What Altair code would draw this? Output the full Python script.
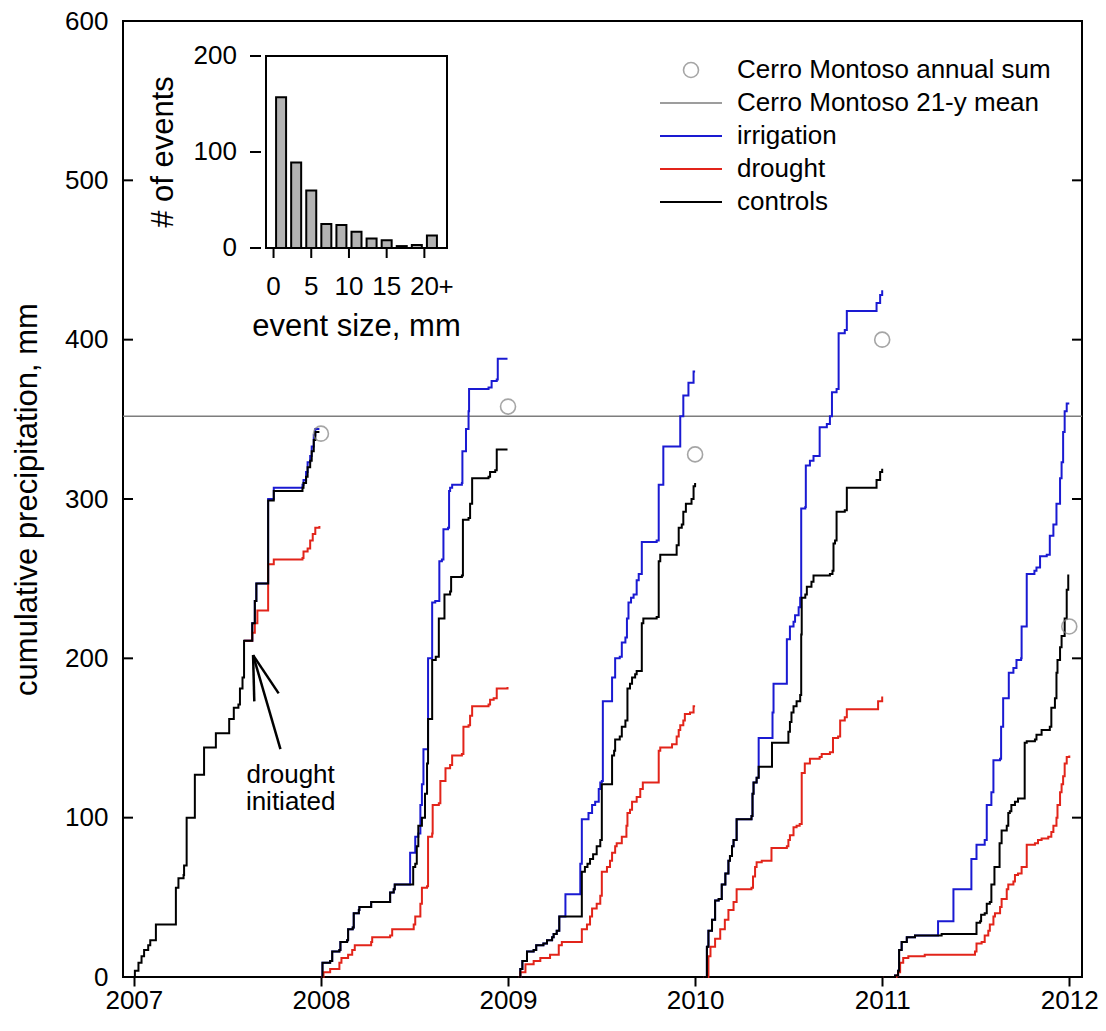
import altair as alt
import pandas as pd

FONT = "Liberation Sans"

# Cumulative precipitation steps as (day of year, mm), per treatment and year
controls_2007 = [(0, 0), (2, 4), (9, 9), (15, 13), (20, 17), (28, 20), (32, 23), (43, 33), (82, 56), (87, 62),
                 (97, 64), (98, 70), (103, 100), (119, 127), (137, 144), (160, 153), (186, 162), (195, 169),
                 (204, 171), (207, 181), (212, 188), (215, 211), (231, 222), (236, 236), (239, 247), (262, 299),
                 (273, 305), (329, 307), (331, 310), (336, 314), (339, 320), (344, 324), (347, 330), (351, 337),
                 (354, 342), (362, 342)]
irrigation_2007 = [(215, 211), (231, 222), (236, 236), (239, 247), (262, 300), (273, 307), (329, 309), (331, 312),
                   (336, 317), (339, 323), (344, 327), (347, 333), (351, 340), (354, 344), (362, 344)]
drought_2007 = [(215, 211), (231, 216), (236, 222), (241, 230), (262, 259), (273, 262), (329, 263), (331, 267),
                (339, 269), (344, 274), (349, 278), (354, 282), (362, 283)]

controls_2008 = [(1, 0), (3, 9), (18, 10), (22, 16), (36, 17), (38, 22), (51, 23), (53, 30), (62, 31), (64, 40),
                 (74, 42), (75, 44), (98, 47), (135, 53), (142, 55), (144, 58), (180, 69), (184, 71), (187, 82),
                 (190, 95), (197, 100), (203, 115), (207, 134), (209, 162), (217, 199), (224, 201), (230, 225),
                 (241, 240), (252, 242), (254, 251), (275, 252), (277, 287), (288, 288), (291, 297), (295, 313),
                 (327, 314), (330, 317), (340, 318), (343, 331), (364, 331)]
irrigation_2008 = [(1, 0), (3, 9), (18, 10), (22, 16), (36, 17), (38, 22), (51, 23), (53, 30), (62, 31), (64, 40),
                   (74, 42), (75, 44), (98, 47), (135, 53), (142, 55), (144, 58), (174, 78), (184, 88), (190, 90),
                   (194, 108), (197, 121), (200, 143), (209, 200), (217, 235), (223, 236), (231, 261), (236, 262),
                   (239, 281), (248, 282), (250, 305), (252, 307), (256, 309), (275, 310), (276, 330), (283, 344),
                   (288, 355), (289, 369), (327, 370), (333, 374), (343, 375), (345, 388), (364, 388)]
drought_2008 = [(1, 0), (5, 3), (18, 5), (36, 9), (40, 12), (53, 14), (61, 17), (66, 20), (98, 22), (100, 25),
                (135, 26), (139, 30), (181, 33), (184, 38), (194, 46), (197, 56), (207, 57), (209, 88), (217, 90),
                (218, 108), (230, 109), (233, 123), (243, 131), (252, 133), (256, 139), (275, 140), (278, 157),
                (288, 158), (291, 164), (295, 170), (327, 171), (330, 174), (337, 175), (343, 181), (364, 182)]

controls_2009 = [(20, 0), (24, 5), (28, 10), (37, 16), (50, 17), (55, 20), (69, 21), (76, 23), (86, 25), (89, 27),
                 (95, 29), (100, 38), (144, 66), (150, 69), (155, 71), (160, 74), (166, 77), (173, 82), (180, 86),
                 (183, 121), (203, 139), (207, 142), (209, 149), (218, 151), (222, 157), (229, 161), (233, 181),
                 (238, 184), (242, 188), (248, 190), (251, 192), (261, 222), (264, 225), (290, 226), (294, 261),
                 (297, 265), (326, 265), (329, 271), (333, 282), (339, 284), (342, 292), (347, 297), (358, 300),
                 (362, 308), (365, 310)]
irrigation_2009 = [(20, 0), (24, 5), (28, 10), (37, 16), (50, 17), (55, 20), (69, 21), (76, 23), (86, 25), (89, 27),
                   (95, 29), (100, 38), (112, 52), (141, 71), (144, 99), (157, 103), (164, 108), (170, 110),
                   (177, 118), (180, 122), (183, 123), (185, 173), (203, 188), (209, 200), (218, 201), (222, 210),
                   (229, 213), (232, 225), (235, 235), (240, 238), (245, 240), (251, 249), (255, 253), (261, 273),
                   (290, 274), (294, 309), (303, 333), (336, 352), (342, 365), (352, 373), (362, 380), (365, 380)]
drought_2009 = [(20, 0), (24, 3), (34, 8), (50, 10), (63, 12), (82, 14), (99, 20), (105, 22), (144, 30), (154, 33),
                (160, 38), (164, 43), (173, 46), (180, 51), (183, 66), (193, 69), (199, 73), (203, 78), (209, 82),
                (212, 84), (222, 88), (231, 95), (233, 103), (238, 105), (242, 110), (251, 113), (258, 118),
                (263, 122), (294, 142), (297, 144), (320, 146), (329, 151), (333, 155), (336, 158), (342, 161),
                (345, 165), (355, 166), (362, 170), (365, 170)]

controls_2010 = [(16, 0), (23, 19), (26, 29), (33, 36), (39, 48), (46, 49), (52, 58), (59, 65), (65, 73), (68, 76),
                 (72, 82), (75, 86), (81, 99), (110, 101), (112, 115), (114, 122), (120, 125), (124, 132),
                 (150, 147), (179, 147), (182, 154), (185, 160), (188, 166), (192, 170), (198, 173), (205, 177),
                 (207, 215), (208, 238), (215, 240), (218, 245), (227, 248), (231, 252), (263, 253), (268, 255),
                 (270, 272), (273, 274), (276, 292), (292, 293), (296, 307), (351, 307), (354, 312), (361, 317),
                 (365, 319)]
irrigation_2010 = [(16, 0), (23, 19), (26, 29), (33, 36), (39, 48), (46, 49), (52, 58), (59, 65), (65, 73), (68, 76),
                   (72, 82), (75, 86), (81, 99), (110, 101), (112, 115), (114, 122), (120, 125), (124, 150),
                   (151, 166), (153, 184), (179, 212), (185, 220), (192, 223), (195, 227), (202, 232), (205, 238),
                   (207, 294), (215, 295), (216, 321), (224, 324), (231, 327), (243, 345), (257, 347), (263, 352),
                   (267, 367), (276, 369), (280, 404), (292, 406), (296, 418), (354, 423), (361, 428), (365, 431)]
drought_2010 = [(16, 0), (26, 13), (30, 19), (39, 24), (49, 30), (58, 36), (65, 42), (75, 47), (81, 55), (110, 56),
                (113, 63), (117, 69), (120, 72), (130, 73), (149, 81), (179, 82), (182, 86), (185, 89), (192, 94),
                (198, 95), (204, 96), (208, 128), (214, 134), (224, 137), (243, 138), (247, 140), (263, 141),
                (269, 150), (279, 151), (283, 161), (292, 163), (296, 168), (357, 173), (365, 176)]

controls_2011 = [(2, 0), (25, 1), (31, 4), (33, 17), (38, 22), (48, 25), (64, 26), (116, 27), (184, 34), (191, 35),
                 (193, 39), (200, 40), (204, 46), (210, 47), (213, 58), (219, 69), (229, 84), (233, 92), (243, 95),
                 (246, 103), (249, 104), (252, 108), (259, 110), (265, 112), (278, 147), (282, 148), (298, 149),
                 (301, 152), (311, 155), (327, 157), (330, 169), (337, 175), (340, 191), (342, 199), (347, 207),
                 (350, 214), (356, 225), (360, 243), (363, 252), (365, 252)]
irrigation_2011 = [(2, 0), (25, 1), (31, 4), (33, 17), (38, 22), (48, 25), (64, 26), (109, 35), (139, 55), (174, 74),
                   (184, 83), (200, 86), (204, 108), (213, 116), (217, 136), (230, 137), (232, 157), (236, 175),
                   (247, 191), (256, 194), (262, 199), (271, 200), (272, 220), (282, 253), (297, 255), (301, 257),
                   (308, 264), (321, 265), (327, 277), (334, 284), (340, 297), (347, 313), (350, 323), (353, 342),
                   (356, 355), (360, 360), (365, 360)]
drought_2011 = [(2, 0), (28, 1), (31, 3), (35, 9), (41, 12), (51, 13), (83, 14), (181, 16), (184, 21), (194, 22),
                (200, 26), (207, 29), (210, 33), (217, 38), (220, 40), (230, 44), (233, 49), (243, 55), (246, 58),
                (256, 60), (259, 64), (265, 65), (272, 69), (282, 83), (298, 84), (304, 86), (311, 87), (324, 88),
                (330, 91), (334, 95), (340, 100), (342, 108), (347, 116), (350, 121), (353, 126), (356, 134),
                (360, 138), (365, 139)]

# Cerro Montoso station record
annual_sum_year = [2008, 2009, 2010, 2011, 2012]
annual_sum_mm = [341, 358, 328, 400, 220]
mean_21y_mm = 352

# Event-size histogram (2 mm bins, last bin = 20+ mm)
event_bin_center = [1, 3, 5, 7, 9, 11, 13, 15, 17, 19, 21]
event_count = [157, 89, 60, 25, 24, 17, 10, 8, 2, 3, 13]

# "drought initiated" arrow, (day of year 2007, mm) for tip and tails
arrow_tip = (232.6, 202)
arrow_tails = [(286, 143), (235, 173), (282.5, 178)]

year_ticks = [2007, 2008, 2009, 2010, 2011, 2012]
mm_ticks = [0, 100, 200, 300, 400, 500, 600]
inset_count_ticks = [0, 100, 200]
inset_size_ticks = [0, 5, 10, 15, 20]
inset_size_labels = ["0", "5", "10", "15", "20"]

BLUE = "#1a1ad2"
RED = "#e2241a"
BLACK = "#000000"
GREY = "#7d7d7d"

W, H = 959, 956


def to_rows(year, steps):
    return pd.DataFrame([{"t": year + d / 365.0, "mm": v, "year": year} for d, v in steps])


def collect(series):
    return pd.concat([to_rows(y, s) for y, s in series], ignore_index=True)


controls = collect([(2007, controls_2007), (2008, controls_2008), (2009, controls_2009),
                    (2010, controls_2010), (2011, controls_2011)])
irrigation = collect([(2007, irrigation_2007), (2008, irrigation_2008), (2009, irrigation_2009),
                      (2010, irrigation_2010), (2011, irrigation_2011)])
drought = collect([(2007, drought_2007), (2008, drought_2008), (2009, drought_2009),
                   (2010, drought_2010), (2011, drought_2011)])

x_axis = alt.Axis(values=year_ticks, format="d", labelFontSize=26, labelFont=FONT, labelColor="black",
                  tickSize=9, tickWidth=2, tickColor="black", labelPadding=1, domain=False, grid=False,
                  title=None, labelFlush=False)
y_axis = alt.Axis(values=mm_ticks, labelFontSize=26, labelFont=FONT, labelColor="black", ticks=False,
                  tickSize=0, labelPadding=15, domain=False, grid=False,
                  title="cumulative precipitation, mm", titleFontSize=31, titleFont=FONT,
                  titleFontWeight="normal", titleColor="black", titleAngle=270, titleBaseline="alphabetic",
                  titleAlign="center", titleX=-87, titleY=H / 2, labelFlush=False)
x_scale = alt.Scale(domain=[2006.942, 2012.068], nice=False, zero=False)
y_scale = alt.Scale(domain=[0, 600], nice=False)


def X(field="t"):
    return alt.X(f"{field}:Q", scale=x_scale, axis=x_axis)


def Y(field="mm"):
    return alt.Y(f"{field}:Q", scale=y_scale, axis=y_axis)


def step_line(df, color):
    return alt.Chart(df).mark_line(interpolate="step-after", color=color, strokeWidth=2).encode(
        x=X(), y=Y(), detail="year:N")


lines = [step_line(irrigation, BLUE), step_line(drought, RED), step_line(controls, BLACK)]

mean_rule = alt.Chart(pd.DataFrame({"mm": [mean_21y_mm]})).mark_rule(color=GREY, strokeWidth=1.5).encode(y=Y())

sums = alt.Chart(pd.DataFrame({"t": annual_sum_year, "mm": annual_sum_mm})).mark_point(
    shape="circle", filled=False, size=225, color="#808080", strokeWidth=1.6).encode(x=X(), y=Y())

# inward ticks on left and right frame
inner_ticks = pd.DataFrame({"mm": mm_ticks[1:-1]})
left_ticks = alt.Chart(inner_ticks).mark_rule(color="black", strokeWidth=2).encode(
    y=Y(), x=alt.value(0), x2=alt.value(10))
right_ticks = alt.Chart(inner_ticks).mark_rule(color="black", strokeWidth=2).encode(
    y=Y(), x=alt.value(W - 10), x2=alt.value(W))

arrow_df = pd.DataFrame([{"t": 2007 + arrow_tip[0] / 365.0, "mm": arrow_tip[1],
                          "t2": 2007 + d / 365.0, "mm2": v} for d, v in arrow_tails])
arrow = alt.Chart(arrow_df).mark_rule(color="black", strokeWidth=2.5).encode(
    x=X(), y=Y(), x2="t2:Q", y2="mm2:Q")

note_df = pd.DataFrame({"t": [2007 + 306 / 365.0] * 2, "mm": [127, 110], "text": ["drought", "initiated"]})
note = alt.Chart(note_df).mark_text(fontSize=26, font=FONT, color="black", align="center",
                                    baseline="middle").encode(x=X(), y=Y(), text="text:N")

# legend
legend_labels = ["Cerro Montoso annual sum", "Cerro Montoso 21-y mean", "irrigation", "drought", "controls"]
legend_colors = ["#808080", GREY, BLUE, RED, BLACK]
legend_layers = []
for i, (lab, col) in enumerate(zip(legend_labels, legend_colors)):
    ly = 49 + 33 * i
    one = pd.DataFrame({"label": [lab]})
    if i == 0:
        legend_layers.append(alt.Chart(one).mark_point(shape="circle", filled=False, size=225, color=col,
                                                       strokeWidth=1.6).encode(x=alt.value(568), y=alt.value(ly)))
    else:
        legend_layers.append(alt.Chart(one).mark_rule(color=col, strokeWidth=1.5 if i == 1 else 2).encode(
            x=alt.value(537), x2=alt.value(599), y=alt.value(ly)))
    legend_layers.append(alt.Chart(one).mark_text(fontSize=26, font=FONT, color="black", align="left",
                                                  baseline="middle").encode(
        x=alt.value(614), y=alt.value(ly), text="label:N"))

main = alt.layer(mean_rule, *lines, sums, left_ticks, right_ticks, arrow, note, *legend_layers)

# inset histogram, drawn on its own scales in the upper-left corner
ix = alt.Scale(domain=[-1, 23], range=[138, 329], nice=False, zero=False)
iy = alt.Scale(domain=[0, 200], range=[227, 35], nice=False)

bars = alt.Chart(pd.DataFrame({"size": event_bin_center, "count": event_count})).mark_bar(
    size=10, fill="#b3b3b3", stroke="black", strokeWidth=2).encode(
    x=alt.X("size:Q", scale=ix, axis=None), y=alt.Y("count:Q", scale=iy, axis=None))

frame = alt.Chart(pd.DataFrame({"a": [-1], "b": [23], "c": [0], "d": [200]})).mark_rect(
    fillOpacity=0, stroke="black", strokeWidth=2).encode(
    x=alt.X("a:Q", scale=ix, axis=None), x2="b:Q", y=alt.Y("c:Q", scale=iy, axis=None), y2="d:Q")

iy_ticks = alt.Chart(pd.DataFrame({"count": inset_count_ticks})).mark_rule(color="black", strokeWidth=2).encode(
    y=alt.Y("count:Q", scale=iy, axis=None), x=alt.value(127), x2=alt.value(138))
iy_labels = alt.Chart(pd.DataFrame({"count": inset_count_ticks})).mark_text(
    fontSize=26, font=FONT, color="black", align="right", baseline="middle").encode(
    y=alt.Y("count:Q", scale=iy, axis=None), x=alt.value(114), text="count:Q")

ix_ticks = alt.Chart(pd.DataFrame({"size": inset_size_ticks})).mark_rule(color="black", strokeWidth=2).encode(
    x=alt.X("size:Q", scale=ix, axis=None), y=alt.value(227), y2=alt.value(237))
ix_labels = alt.Chart(pd.DataFrame({"size": inset_size_ticks, "label": inset_size_labels})).mark_text(
    fontSize=26, font=FONT, color="black", align="center", baseline="middle").encode(
    x=alt.X("size:Q", scale=ix, axis=None), y=alt.value(266), text="label:N")
ix_plus = alt.Chart(pd.DataFrame({"size": [20], "label": ["+"]})).mark_text(
    fontSize=26, font=FONT, color="black", align="left", baseline="middle", dx=14).encode(
    x=alt.X("size:Q", scale=ix, axis=None), y=alt.value(266), text="label:N")

ix_title = alt.Chart(pd.DataFrame({"size": [11], "label": ["event size, mm"]})).mark_text(
    fontSize=31, font=FONT, color="black", align="center", baseline="alphabetic").encode(
    x=alt.X("size:Q", scale=ix, axis=None), y=alt.value(315), text="label:N")
iy_title = alt.Chart(pd.DataFrame({"count": [100], "label": ["# of events"]})).mark_text(
    fontSize=31, font=FONT, color="black", align="center", baseline="alphabetic", angle=270).encode(
    y=alt.Y("count:Q", scale=iy, axis=None), x=alt.value(50), text="label:N")

inset = alt.layer(bars, frame, iy_ticks, iy_labels, ix_ticks, ix_labels, ix_plus, ix_title, iy_title)

chart = alt.layer(main, inset).resolve_scale(x="independent", y="independent").properties(
    width=W, height=H,
    padding={"left": 123, "top": 21, "right": 24, "bottom": 54},
    autosize=alt.AutoSizeParams(type="none"),
    background="white",
).configure_view(stroke="black", strokeWidth=2)

chart.save("out.html", embed_options={"renderer": "svg", "actions": False})
